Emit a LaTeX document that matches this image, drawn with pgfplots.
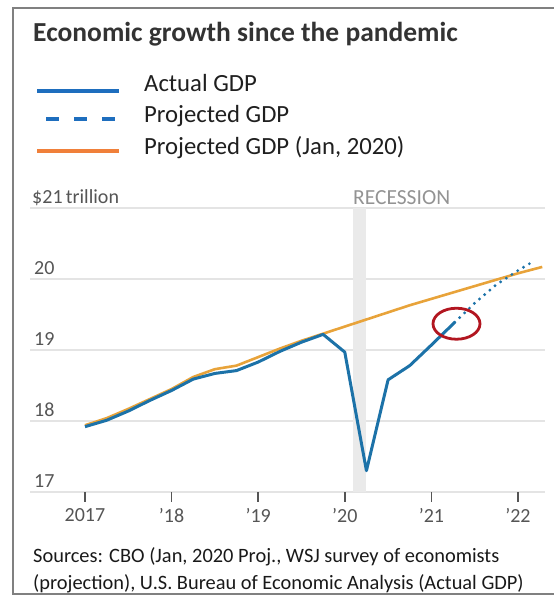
\documentclass[border=0pt]{standalone}
\usepackage{pgfplots}
\pgfplotsset{compat=1.18}
\usepackage{fontspec}
\setmainfont{Carlito}
\definecolor{chartblue}{RGB}{28,114,168}
\definecolor{legendblue}{RGB}{30,110,190}
\definecolor{chartorange}{RGB}{232,163,58}
\definecolor{legendorange}{RGB}{240,128,58}
\definecolor{circred}{RGB}{178,22,32}
\definecolor{gridgray}{RGB}{228,228,228}
\definecolor{bandgray}{RGB}{234,234,234}
\definecolor{tickgray}{RGB}{85,85,85}
\definecolor{titlegray}{RGB}{51,51,51}
\definecolor{framegray}{RGB}{128,128,128}
\begin{document}
\begin{tikzpicture}[x=1pt,y=1pt]
\useasboundingbox (0,0) rectangle (554,597);
% frame
\draw[line width=2.5pt, framegray] (554,589) -- (13,589) -- (13,3) -- (554,3);
% title
\node[anchor=base west, inner sep=0, text=titlegray] at (33,555) {\bfseries\fontsize{27.5}{32}\selectfont Economic growth since the pandemic};
% legend
\draw[line width=4pt, legendblue] (37,506) -- (119,506);
\draw[line width=4pt, legendblue, dash pattern=on 13pt off 15pt] (46,478) -- (118,478);
\draw[line width=4pt, legendorange] (37,446) -- (119,446);
\node[anchor=base west, inner sep=0, text=black!88] at (144,505) {\fontsize{24.7}{28}\selectfont Actual GDP};
\node[anchor=base west, inner sep=0, text=black!88] at (144,474) {\fontsize{24.7}{28}\selectfont Projected GDP};
\node[anchor=base west, inner sep=0, text=black!88] at (144,442) {\fontsize{24.7}{28}\selectfont Projected GDP (Jan, 2020)};
% sources
\node[anchor=base west, inner sep=0, text=black!90] at (33,34) {\fontsize{20.4}{24}\selectfont Sources: CBO (Jan, 2020 Proj., WSJ survey of economists};
\node[anchor=base west, inner sep=0, text=black!90] at (33,7) {\fontsize{20.4}{24}\selectfont (projection), U.S. Bureau of Economic Analysis (Actual GDP)};
\begin{axis}[
  at={(30pt,105pt)}, anchor=south west,
  scale only axis, width=515pt, height=284pt,
  xmin=2016.365, xmax=2022.312, ymin=17, ymax=21,
  axis line style={draw=none},
  clip=false,
  xtick={2017,2018,2019,2020,2021,2022},
  xticklabels={2017,'18,'19,'20,'21,'22},
  ytick={17,18,19,20,21},
  yticklabels={17,18,19,20,{\hspace*{-2pt}\$21\,trillion}},
  xtick pos=bottom, tick align=outside,
  major tick length=10pt,
  xtick style={draw=tickgray, line width=1.6pt},
  ytick style={draw=none},
  ymajorgrids, major grid style={draw=gridgray, line width=1.4pt},
  xticklabel style={text=tickgray, font=\fontsize{20}{24}\selectfont, yshift=-3pt},
  yticklabel style={text=tickgray, font=\fontsize{20}{24}\selectfont, anchor=base west, inner sep=0pt, xshift=14pt, yshift=4pt},
]
\addplot[fill=bandgray, draw=none] coordinates {(2020.095,17) (2020.095,21) (2020.245,21) (2020.245,17)} -- cycle;
\addplot[chartorange, line width=2.6pt] coordinates {
(2017.00,17.94) (2017.25,18.04) (2017.50,18.17) (2017.75,18.31)
(2018.00,18.45) (2018.25,18.62) (2018.50,18.73) (2018.75,18.78)
(2019.00,18.90) (2019.25,19.02) (2019.50,19.13) (2019.75,19.23)
(2020.00,19.33) (2020.25,19.43) (2020.50,19.53) (2020.75,19.63)
(2021.00,19.72) (2021.25,19.81) (2021.50,19.90) (2021.75,19.99)
(2022.00,20.08) (2022.28,20.17)};
\addplot[chartblue, line width=3pt, line join=round] coordinates {
(2017.00,17.92) (2017.25,18.01) (2017.50,18.14) (2017.75,18.29)
(2018.00,18.43) (2018.25,18.59) (2018.50,18.67) (2018.75,18.71)
(2019.00,18.83) (2019.25,18.98) (2019.50,19.11) (2019.75,19.22)
(2020.00,18.97) (2020.25,17.30) (2020.50,18.58) (2020.75,18.78)
(2021.00,19.07) (2021.27,19.39)};
\addplot[chartblue, line width=3.2pt, line cap=round, dash pattern=on 0pt off 6.8pt] coordinates {
(2021.27,19.39) (2021.50,19.66) (2021.75,19.92) (2022.00,20.12) (2022.18,20.25)};
\node[anchor=base west, inner sep=0, text=gray!85, font=\fontsize{21.5}{24}\selectfont, yshift=3pt] at (axis cs:2020.095,21) {RECESSION};
\draw[circred, line width=2.8pt] (axis cs:2021.29,19.37) ellipse [x radius=23.5pt, y radius=15.5pt];
\end{axis}
\end{tikzpicture}
\end{document}
